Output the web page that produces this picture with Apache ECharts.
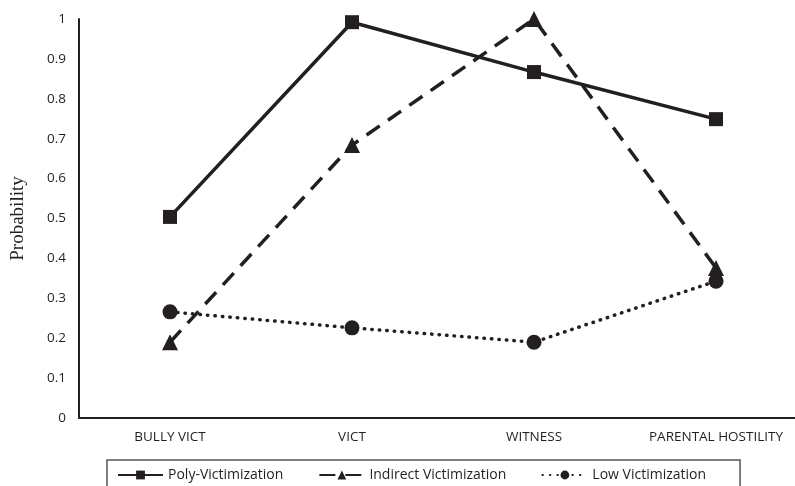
<!DOCTYPE html>
<html>
<head>
<meta charset="utf-8">
<script src="https://cdn.jsdelivr.net/npm/echarts@6/dist/echarts.min.js"></script>
<style>
  html, body { margin: 0; padding: 0; background: #fff; }
  #chart { width: 795px; height: 486px; }
</style>
</head>
<body>
<div id="chart"></div>
<script>
const categories = ["BULLY VICT", "VICT", "WITNESS", "PARENTAL HOSTILITY"];
const polyVictimization = [0.504, 0.992, 0.867, 0.749];
const indirectVictimization = [0.19, 0.684, 1.0, 0.376];
const lowVictimization = [0.266, 0.226, 0.19, 0.343];
const yTicks = [0, 0.1, 0.2, 0.3, 0.4, 0.5, 0.6, 0.7, 0.8, 0.9, 1];

const ink = "#231f20";
const chart = echarts.init(document.getElementById("chart"));

chart.setOption({
  backgroundColor: "#fff",
  animation: false,
  grid: { left: 79, right: -12, top: 19, bottom: 68, outerBoundsMode: "none" },
  legend: {
    left: 107,
    top: 460,
    padding: [8, 34, 10, 10],
    itemGap: 35,
    itemWidth: 45,
    itemHeight: 11,
    borderColor: "#555",
    borderWidth: 1.5,
    textStyle: { fontFamily: "Open Sans", fontSize: 14, color: ink },
    data: ["Poly-Victimization", "Indirect Victimization", "Low Victimization"]
  },
  xAxis: {
    type: "category",
    data: categories,
    boundaryGap: true,
    axisLine: { lineStyle: { color: ink, width: 2 } },
    axisTick: { show: false },
    axisLabel: { fontFamily: "Open Sans", fontSize: 13.5, color: ink, margin: 12 }
  },
  yAxis: {
    type: "value",
    min: 0,
    max: 1,
    interval: 0.1,
    name: "Probability",
    nameLocation: "middle",
    nameGap: 51,
    nameTextStyle: { fontFamily: "Liberation Serif", fontSize: 19, color: ink },
    axisLine: { show: true, lineStyle: { color: ink, width: 2 } },
    axisTick: { show: false },
    splitLine: { show: false },
    axisLabel: {
      fontFamily: "Open Sans", fontSize: 13.5, color: ink, margin: 13,
      formatter: v => {
        const t = yTicks.find(x => Math.abs(x - v) < 1e-6);
        return t === undefined ? "" : String(t);
      }
    }
  },
  series: [
    {
      name: "Poly-Victimization",
      type: "line",
      data: polyVictimization,
      symbol: "rect",
      symbolSize: 14,
      itemStyle: { color: ink },
      lineStyle: { color: ink, width: 3.5, type: "solid" }
    },
    {
      name: "Indirect Victimization",
      type: "line",
      data: indirectVictimization,
      symbol: "triangle",
      symbolSize: 16,
      itemStyle: { color: ink },
      lineStyle: { color: ink, width: 3.5, type: [16, 10] }
    },
    {
      name: "Low Victimization",
      type: "line",
      data: lowVictimization,
      symbol: "circle",
      symbolSize: 15,
      itemStyle: { color: ink },
      lineStyle: { color: ink, width: 3.5, type: [0.5, 7], cap: "round" }
    }
  ]
});
</script>
</body>
</html>
